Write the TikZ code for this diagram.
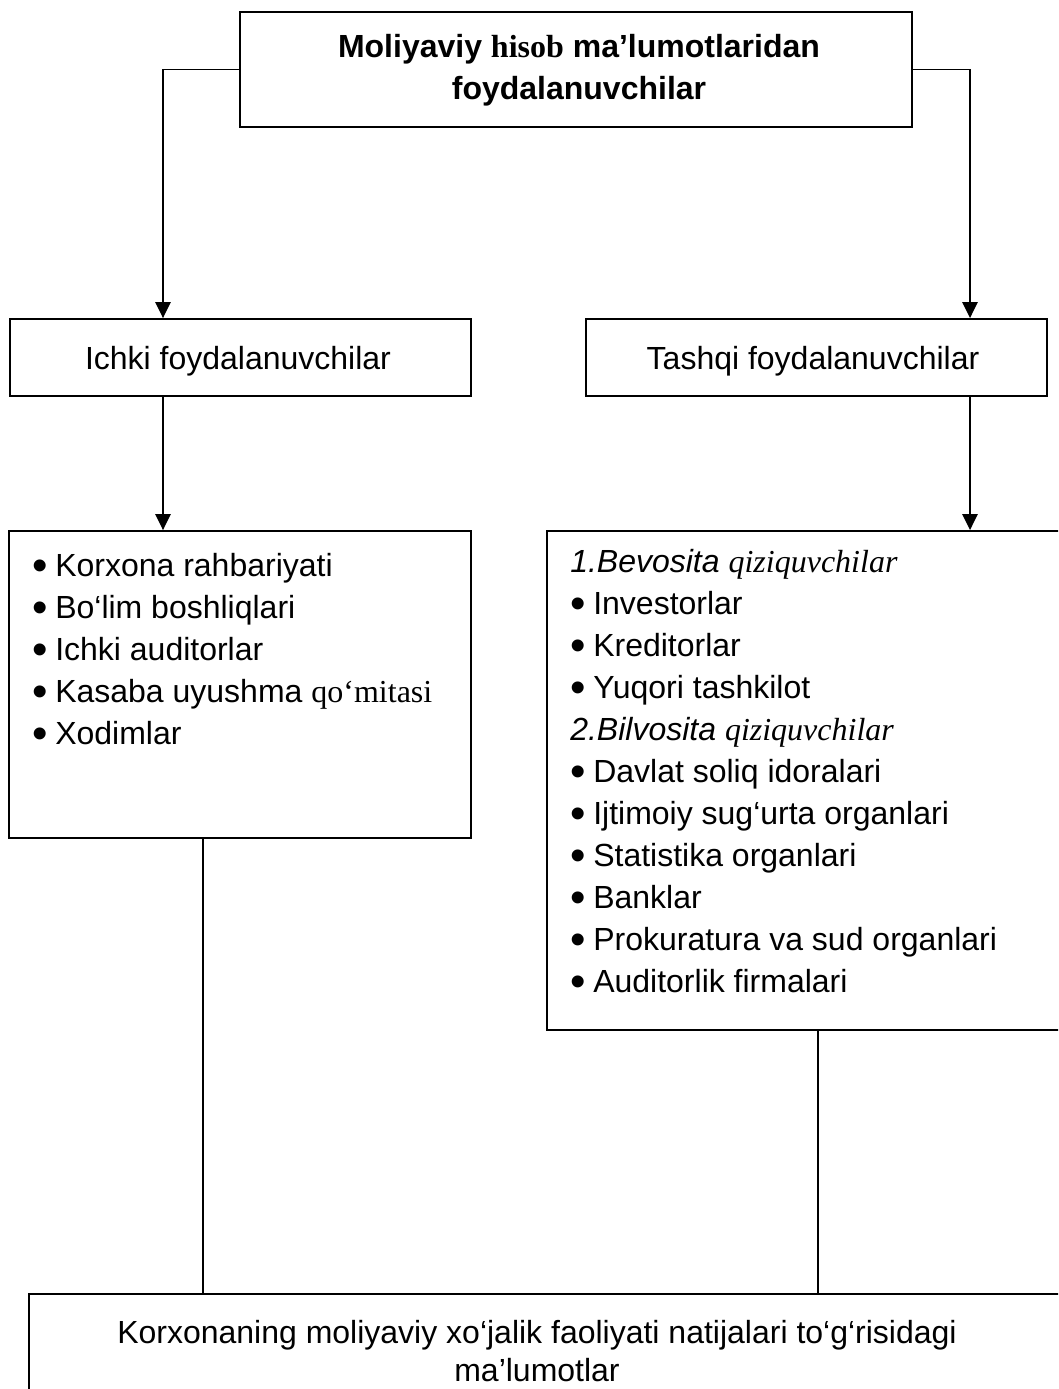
\documentclass[tikz,border=0pt]{standalone}
\usepackage{fontspec}
\setmainfont{Liberation Sans}
\newfontfamily\tnr{Liberation Serif}
\usetikzlibrary{arrows.meta}

% stacked lines: first baseline is the node's baseline
\newcommand\clines[1]{\vtop{\halign{\hfil##\hfil\cr#1\crcr}}}
\newcommand\llines[1]{\vtop{\halign{##\hfil\cr#1\crcr}}}
% a round list bullet, a little larger than the text one
\newcommand\itm{\makebox[17.25pt][l]{\raisebox{-3.6pt}{\fontsize{33}{0}\selectfont\textbullet}}}

\begin{document}
\begin{tikzpicture}[x=0.75pt,y=-0.75pt,
  box/.style={draw,line width=1.4pt,inner sep=0pt,fill=none},
  txt/.style={inner sep=0pt,font=\fontsize{24}{31.5}\selectfont},
  conn/.style={line width=1.3pt},
  arr/.style={conn,-{Triangle[width=11.5pt,length=12pt]}}]
\useasboundingbox (0,0) rectangle (1058,1389);
\clip (0,0) rectangle (1058,1389);
\fill[white] (0,0) rectangle (1058,1389);

% boxes
\node[box,minimum width=504pt,minimum height=86.25pt] (top) at (576,69.5) {};
\node[box,minimum width=345.75pt,minimum height=57.75pt] (ichki) at (240.5,357.5) {};
\node[box,minimum width=345.75pt,minimum height=57.75pt] (tashqi) at (816.5,357.5) {};
\node[box,minimum width=346.5pt,minimum height=230.25pt] (left) at (240,684.5) {};
\node[box,minimum width=396pt,minimum height=374.25pt] (right) at (811,780.5) {};
\node[box,minimum width=784.5pt,minimum height=94.5pt] (bottom) at (552,1357) {};

% texts
\node[txt,anchor=base] (toptext) at (579,57)
  {\clines{\bfseries Moliyaviy {\tnr hisob} ma’lumotlaridan\cr \bfseries foydalanuvchilar}};
\node[txt,anchor=base] (ichkitext) at (238,369) {Ichki foydalanuvchilar};
\node[txt,anchor=base] (tashqitext) at (813,369) {Tashqi foydalanuvchilar};
\node[txt,anchor=base west] (lefttext) at (32,576)
  {\llines{\itm Korxona rahbariyati\cr
           \itm Bo‘lim boshliqlari\cr
           \itm Ichki auditorlar\cr
           \itm Kasaba uyushma {\tnr qo‘mitasi}\cr
           \itm Xodimlar}};
\node[txt,anchor=base west] (righttext) at (570,572)
  {\llines{{\itshape 1.Bevosita {\tnr qiziquvchilar}}\cr
           \itm Investorlar\cr
           \itm Kreditorlar\cr
           \itm Yuqori tashkilot\cr
           {\itshape 2.Bilvosita {\tnr qiziquvchilar}}\cr
           \itm Davlat soliq idoralari\cr
           \itm Ijtimoiy sug‘urta organlari\cr
           \itm Statistika organlari\cr
           \itm Banklar\cr
           \itm Prokuratura va sud organlari\cr
           \itm Auditorlik firmalari}};
\node[txt,anchor=base,font=\fontsize{24}{28.5}\selectfont] (bottomtext) at (537,1343)
  {\clines{Korxonaning moliyaviy xo‘jalik faoliyati natijalari to‘g‘risidagi\cr ma’lumotlar}};

% connector columns
\coordinate (lx) at (163,0);
\coordinate (rx) at (970,0);
\coordinate (ldx) at (203,0);
\coordinate (rdx) at (818,0);

% connectors
\draw[arr] (top.west) -| (ichki.north -| lx);
\draw[arr] (top.east) -| (tashqi.north -| rx);
\draw[arr] (ichki.south -| lx) -- (left.north -| lx);
\draw[arr] (tashqi.south -| rx) -- (right.north -| rx);
\draw[conn] (left.south -| ldx) -- (bottom.north -| ldx);
\draw[conn] (right.south -| rdx) -- (bottom.north -| rdx);
\end{tikzpicture}
\end{document}
